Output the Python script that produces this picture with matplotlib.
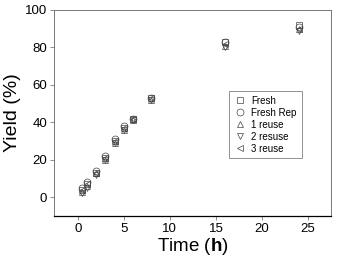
import numpy as np
import matplotlib.pyplot as plt

plt.rcParams['font.family'] = ['Liberation Sans', 'DejaVu Sans']
plt.rcParams['mathtext.fontset'] = 'custom'
plt.rcParams['mathtext.bf'] = 'Liberation Sans:bold'
plt.rcParams['mathtext.rm'] = 'Liberation Sans'

time_h = [0.5, 1, 2, 3, 4, 5, 6, 8, 16, 24]
fresh = [4, 7, 13, 21, 30, 37, 42, 53, 83, 92]
fresh_rep = [5, 8, 14, 22, 31, 38, 42, 53, 83, 91]
reuse_1 = [3, 6, 13, 20, 29, 36, 41, 52, 81, 90]
reuse_2 = [2, 5, 12, 20, 29, 36, 41, 52, 80, 89]
reuse_3 = [4, 7, 13, 21, 30, 37, 42, 53, 82, 90]

series = [
    ("Fresh", fresh, "s"),
    ("Fresh Rep", fresh_rep, "o"),
    ("1 reuse", reuse_1, "^"),
    ("2 resuse", reuse_2, "v"),
    ("3 reuse", reuse_3, "<"),
]

fig = plt.figure(figsize=(3.37, 2.62), dpi=100)
ax = fig.add_axes([0.160, 0.176, 0.822, 0.786])

for label, vals, m in series:
    ax.plot(time_h, vals, linestyle="none", marker=m, markersize=5,
            markerfacecolor="none", markeredgecolor="#444444",
            markeredgewidth=0.5, label=label)

ax.set_xlim(-2.6, 27.5)
ax.set_ylim(-10, 100)
ax.set_xticks([0, 5, 10, 15, 20, 25])
ax.set_yticks([0, 20, 40, 60, 80, 100])
ax.tick_params(labelsize=9.5, length=3, width=0.6, color="#777777", direction="out", pad=2)

for s in ["left", "top", "right"]:
    ax.spines[s].set_color("#777777")
    ax.spines[s].set_linewidth(0.7)
ax.spines["bottom"].set_color("black")
ax.spines["bottom"].set_linewidth(0.9)

ax.set_xlabel(r"Time ($\mathbf{h}$)", fontsize=13.5, labelpad=1)
ax.set_ylabel("Yield (%)", fontsize=14, labelpad=3)

leg = ax.legend(loc="upper left", bbox_to_anchor=(0.632, 0.607), fontsize=7,
                frameon=True, fancybox=False, borderpad=0.5, labelspacing=0.2,
                handletextpad=0.6, handlelength=1.2, borderaxespad=0)
leg.get_frame().set_edgecolor("#777777")
leg.get_frame().set_linewidth(0.7)

plt.savefig("out.png", dpi=100)
